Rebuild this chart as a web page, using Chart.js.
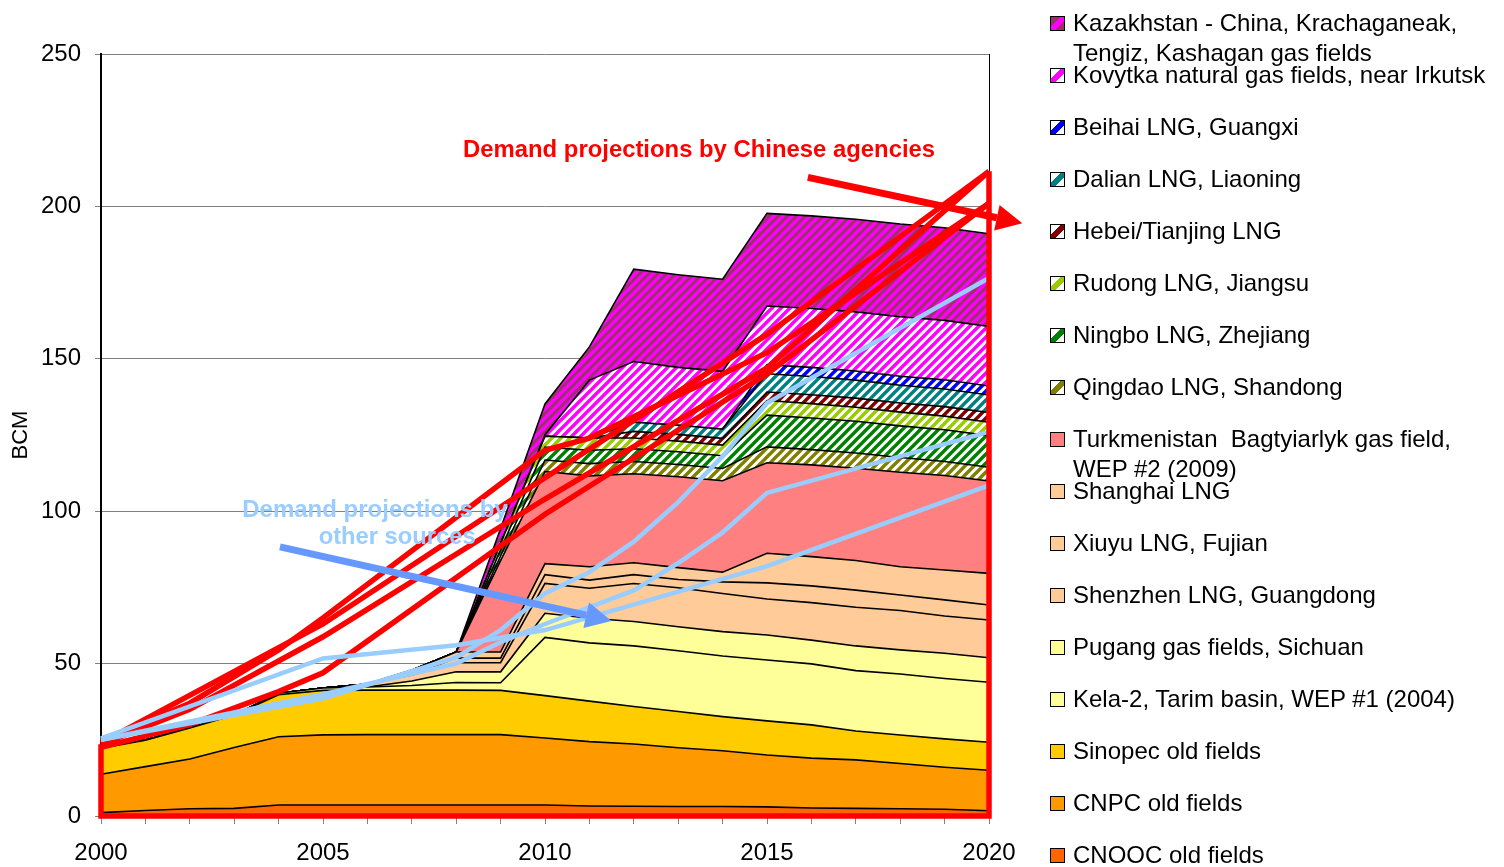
<!DOCTYPE html>
<html>
<head>
<meta charset="utf-8">
<script src="https://cdn.jsdelivr.net/npm/chart.js@4.4.1/dist/chart.umd.min.js"></script>
<style>
  body { margin: 0; background: #fff; }
  #wrap { position: relative; width: 1504px; height: 867px; overflow: hidden; }
  #c { position: absolute; left: 0; top: 0; }
  #legend { position: absolute; left: 0; top: 0; font-family: "Liberation Sans", Arial, sans-serif; font-size: 24px; color: #000; }
  .item { position: absolute; left: 1050px; white-space: pre; line-height: 30px; }
  .box { position: absolute; left: 0; top: 8px; width: 13px; height: 13px; border: 1px solid #000; }
  .txt { position: absolute; left: 23px; top: 0; }
</style>
</head>
<body>
<div id="wrap">
  <canvas id="c" width="1504" height="867"></canvas>
  <div id="legend"></div>
</div>
<script>
// années
const years = [2000, 2001, 2002, 2003, 2004, 2005, 2006, 2007, 2008, 2009, 2010,
               2011, 2012, 2013, 2014, 2015, 2016, 2017, 2018, 2019, 2020];
const yTicks = [0, 50, 100, 150, 200, 250];

// supply layers (BCM, stacked from the bottom)
const cnooc    = [1.1, 1.8, 2.4, 2.5, 3.6, 3.6, 3.6, 3.6, 3.6, 3.6, 3.6, 3.3, 3.2, 3.1, 3.1, 3.0, 2.6, 2.5, 2.4, 2.2, 1.7];
const cnpc     = [12.6, 14.4, 16.3, 20.0, 22.4, 23.0, 23.1, 23.1, 23.1, 23.1, 22.0, 21.1, 20.4, 19.3, 18.3, 17.0, 16.4, 15.9, 14.8, 13.8, 13.3];
const sinopec  = [8.5, 8.7, 10.2, 10.6, 13.8, 14.6, 14.6, 14.6, 14.6, 14.5, 13.9, 13.3, 12.3, 11.9, 11.2, 11.2, 10.9, 9.5, 9.4, 9.3, 9.2];
const kela2    = [0, 0, 0, 0, 0.5, 0.8, 1.0, 1.5, 2.5, 2.5, 19.1, 19.1, 19.9, 19.9, 19.9, 20.0, 20.0, 19.8, 20.0, 19.8, 19.7];
const pugang   = [0, 0, 0, 0, 0, 0, 0, 1.5, 3.5, 3.6, 7.9, 8.1, 8.0, 7.9, 8.0, 8.2, 7.8, 8.1, 7.9, 8.3, 8.0];
const shenzhen = [0, 0, 0, 0, 0, 0, 1.0, 2.0, 3.0, 3.0, 9.8, 9.8, 12.5, 12.8, 12.5, 11.8, 12.3, 12.7, 12.9, 12.2, 12.4];
const xiuyu    = [0, 0, 0, 0, 0, 0, 0, 0, 1.5, 1.5, 2.9, 2.7, 2.9, 2.7, 3.8, 5.3, 5.5, 5.6, 5.1, 5.3, 4.9];
const shanghai = [0, 0, 0, 0, 0, 0, 0, 1.5, 2.0, 2.0, 3.6, 4.4, 3.9, 3.9, 3.2, 9.7, 9.6, 9.7, 9.3, 9.8, 10.4];
const turkmen  = [0, 0, 0, 0, 0, 0, 0, 0, 0, 30.0, 30.2, 29.8, 29.2, 29.8, 30.0, 29.7, 30.1, 30.3, 31.0, 31.0, 30.3];
const qingdao  = [0, 0, 0, 0, 0, 0, 0, 0, 0, 1.5, 3.8, 4.0, 4.0, 4.0, 4.0, 5.2, 5.0, 5.0, 4.8, 4.6, 4.5];
const ningbo   = [0, 0, 0, 0, 0, 0, 0, 0, 0, 2.0, 4.2, 4.4, 4.2, 4.2, 4.2, 10.4, 10.4, 10.4, 10.4, 10.4, 10.4];
const rudong   = [0, 0, 0, 0, 0, 0, 0, 0, 0, 2.0, 3.6, 4.0, 3.5, 3.5, 3.5, 4.8, 4.7, 4.6, 4.5, 4.5, 4.4];
const hebei    = [0, 0, 0, 0, 0, 0, 0, 0, 0, 0, 0, 0, 2.2, 2.2, 2.2, 2.8, 2.9, 3.0, 3.0, 3.1, 3.2];
const dalian   = [0, 0, 0, 0, 0, 0, 0, 0, 0, 0, 0, 0, 3.0, 3.0, 3.0, 6.0, 6.0, 5.9, 5.8, 5.8, 5.7];
const beihai   = [0, 0, 0, 0, 0, 0, 0, 0, 0, 0, 0, 0, 0, 0, 0, 3.0, 3.0, 3.0, 3.0, 3.0, 3.0];
const kovytka  = [0, 0, 0, 0, 0, 0, 0, 0, 0, 0, 0.5, 19.0, 19.9, 19.0, 19.0, 19.2, 19.3, 19.4, 19.5, 19.5, 19.5];
const kazakh   = [0, 0, 0, 0, 0, 0, 0, 0, 0, 5.0, 10.1, 10.9, 30.3, 30.4, 30.2, 30.4, 30.4, 30.4, 30.4, 30.4, 30.4];

// demand projections by Chinese agencies (null = not given)
const red1 = [24.5, null, 37, null, 54.5, 65, null, null, null, null, 120, 124, null, null, null, 152, null, null, null, null, 201];
const red2 = [24, null, null, null, null, 63, null, null, null, null, 111, null, null, null, null, 158, null, null, null, null, 211.5];
const red3 = [23.5, null, 35, null, null, 58.8, null, null, null, null, 104, null, null, null, null, 147, null, null, null, null, 211.5];
const red4 = [22.5, null, 30, null, 40.8, 47, null, null, null, null, 99, null, null, null, null, 145, null, null, null, null, 201];
// demand projections by other sources
const blue1 = [25.5, null, null, null, null, 51.7, null, null, 56, null, 61, null, null, null, null, 82, null, null, null, null, 108.5];
const blue2 = [25, null, null, null, null, 40, null, null, 50, 57, 63, null, 74, 83, 93, 106, null, null, null, null, 126];
const blue3 = [25, null, null, null, null, 38.5, null, null, 52, 61, 73, 80, 90, 103, 118, 135.5, null, null, null, null, 176.5];

// annotations, in (year index, BCM)
const redArrow = [15.92, 209.5, 20.75, 194.5];
const blueArrow = [4.03, 88.3, 11.5, 64.0];
const redText = ['Demand projections by Chinese agencies', 13.47, 218.3];
const blueText1 = ['Demand projections by', 6.17, 100.3];
const blueText2 = ['other sources', 6.67, 91.3];

const FONT = '"Liberation Sans", Arial, sans-serif';
const canvas = document.getElementById('c');
const ctx0 = canvas.getContext('2d');

function stripes(fg, bg) {
  const s = 9;
  const tile = document.createElement('canvas');
  tile.width = s; tile.height = s;
  const g = tile.getContext('2d');
  g.fillStyle = bg;
  g.fillRect(0, 0, s, s);
  g.strokeStyle = fg;
  g.lineWidth = 3.4;
  g.beginPath();
  g.moveTo(0, s); g.lineTo(s, 0);
  g.moveTo(-s / 2, s / 2); g.lineTo(s / 2, -s / 2);
  g.moveTo(s / 2, s * 1.5); g.lineTo(s * 1.5, s / 2);
  g.stroke();
  return ctx0.createPattern(tile, 'repeat');
}

const layers = [
  ['CNOOC old fields', cnooc, '#FF6600'],
  ['CNPC old fields', cnpc, '#FF9900'],
  ['Sinopec old fields', sinopec, '#FFCC00'],
  ['Kela-2, Tarim basin, WEP #1 (2004)', kela2, '#FFFF99'],
  ['Pugang gas fields, Sichuan', pugang, '#FFFF99'],
  ['Shenzhen LNG, Guangdong', shenzhen, '#FFCC99'],
  ['Xiuyu LNG, Fujian', xiuyu, '#FFCC99'],
  ['Shanghai LNG', shanghai, '#FFCC99'],
  ['Turkmenistan  Bagtyiarlyk gas field,\nWEP #2 (2009)', turkmen, '#FF8080'],
  ['Qingdao LNG, Shandong', qingdao, '#808000', '#FFFFFF'],
  ['Ningbo LNG, Zhejiang', ningbo, '#008000', '#FFFFFF'],
  ['Rudong LNG, Jiangsu', rudong, '#99CC00', '#FFFFFF'],
  ['Hebei/Tianjing LNG', hebei, '#800000', '#FFFFFF'],
  ['Dalian LNG, Liaoning', dalian, '#008080', '#FFFFFF'],
  ['Beihai LNG, Guangxi', beihai, '#0000FF', '#FFFFFF'],
  ['Kovytka natural gas fields, near Irkutsk', kovytka, '#FF00FF', '#FFFFFF'],
  ['Kazakhstan - China, Krachaganeak,\nTengiz, Kashagan gas fields', kazakh, '#FF00FF', '#993366']
];

const datasets = layers.map((l, i) => ({
  label: l[0],
  data: l[1],
  backgroundColor: l[3] ? stripes(l[2], l[3]) : l[2],
  borderColor: '#000',
  borderWidth: 1.6,
  fill: i === 0 ? 'origin' : '-1',
  pointRadius: 0,
  tension: 0,
  order: 2
}));

function demand(data, color, width, name, outline) {
  return {
    label: name, data: data, borderColor: color, borderWidth: width,
    fill: false, pointRadius: 0, tension: 0, spanGaps: true,
    stack: name, order: 1, outline: outline
  };
}
datasets.push(
  demand(blue1, '#99CCFF', 4.5, 'b1'),
  demand(blue2, '#99CCFF', 4.5, 'b2'),
  demand(blue3, '#99CCFF', 4.5, 'b3'),
  demand(red4, '#FF0000', 5.5, 'r4'),
  demand(red1, '#FF0000', 5.5, 'r1'),
  demand(red2, '#FF0000', 5.5, 'r2'),
  demand(red3, '#FF0000', 5.5, 'r3', true)
);

function arrow(ctx, x1, y1, x2, y2, color, w, head) {
  const a = Math.atan2(y2 - y1, x2 - x1);
  const bx = x2 - head * Math.cos(a), by = y2 - head * Math.sin(a);
  const hw = head * 0.5;
  ctx.strokeStyle = color;
  ctx.lineWidth = w;
  ctx.beginPath(); ctx.moveTo(x1, y1); ctx.lineTo(bx, by); ctx.stroke();
  ctx.fillStyle = color;
  ctx.beginPath();
  ctx.moveTo(x2, y2);
  ctx.lineTo(bx + hw * Math.sin(a), by - hw * Math.cos(a));
  ctx.lineTo(bx - hw * Math.sin(a), by + hw * Math.cos(a));
  ctx.closePath(); ctx.fill();
}

const extras = {
  id: 'extras',
  beforeDatasetsDraw(chart) {
    const { ctx, chartArea: a } = chart;
    ctx.save();
    ctx.strokeStyle = '#000';
    ctx.lineWidth = 1;
    ctx.beginPath();
    ctx.moveTo(a.right + 0.5, a.top); ctx.lineTo(a.right + 0.5, a.bottom);
    ctx.stroke();
    ctx.restore();
  },
  afterDatasetsDraw(chart) {
    const { ctx } = chart;
    const y0 = chart.scales.y.getPixelForValue(0);
    chart.data.datasets.forEach((ds, i) => {
      if (!ds.outline) return;
      const meta = chart.getDatasetMeta(i);
      const pts = meta.data.filter((p, j) => ds.data[j] != null);
      const first = pts[0], last = pts[pts.length - 1];
      ctx.save();
      ctx.strokeStyle = ds.borderColor;
      ctx.lineWidth = ds.borderWidth;
      ctx.lineJoin = 'miter';
      ctx.beginPath();
      ctx.moveTo(last.x, last.y);
      ctx.lineTo(last.x, y0);
      ctx.lineTo(first.x, y0);
      ctx.lineTo(first.x, first.y);
      ctx.stroke();
      ctx.restore();
    });
  },
  afterDraw(chart) {
    const { ctx, scales: { x, y } } = chart;
    const px = v => x.getPixelForValue(v);
    const py = v => y.getPixelForValue(v);
    ctx.save();
    arrow(ctx, px(redArrow[0]), py(redArrow[1]), px(redArrow[2]), py(redArrow[3]), '#FF0000', 7, 26);
    arrow(ctx, px(blueArrow[0]), py(blueArrow[1]), px(blueArrow[2]), py(blueArrow[3]), '#6699FF', 7, 26);
    ctx.font = 'bold 24px ' + FONT;
    ctx.textAlign = 'center';
    ctx.textBaseline = 'middle';
    ctx.fillStyle = '#FF0000';
    ctx.fillText(redText[0], px(redText[1]), py(redText[2]), 472);
    ctx.fillStyle = '#99CCFF';
    ctx.fillText(blueText1[0], px(blueText1[1]), py(blueText1[2]), 266);
    ctx.fillText(blueText2[0], px(blueText2[1]), py(blueText2[2]), 157);
    ctx.restore();
  }
};

Chart.defaults.font.family = FONT;
Chart.defaults.color = '#000';

new Chart(canvas, {
  type: 'line',
  data: { labels: years, datasets: datasets },
  options: {
    responsive: false,
    animation: false,
    events: [],
    layout: { padding: { top: 54, right: 515, left: 0, bottom: 0 } },
    plugins: { legend: { display: false }, tooltip: { enabled: false } },
    scales: {
      x: {
        type: 'category',
        offset: false,
        grid: { drawOnChartArea: false, drawTicks: true, tickLength: 8, color: '#808080' },
        border: { display: true, color: '#000', width: 1.5 },
        ticks: {
          autoSkip: false, maxRotation: 0, padding: 15, color: '#000', font: { size: 24 },
          callback: function (v, i) { return years[i] % 5 === 0 ? String(years[i]) : ''; }
        },
        afterFit: s => { s.height = 51; }
      },
      y: {
        stacked: true,
        min: yTicks[0],
        max: yTicks[yTicks.length - 1],
        afterBuildTicks: s => { s.ticks = yTicks.map(v => ({ value: v })); },
        ticks: { padding: 14, color: '#000', font: { size: 24 } },
        grid: { color: '#808080', tickLength: 6 },
        border: { color: '#000', width: 2 },
        title: { display: true, text: 'BCM', font: { size: 22 }, color: '#000', padding: { top: 8, bottom: 0 } },
        afterFit: s => { s.width = 101; }
      }
    }
  },
  plugins: [extras]
});

// légende à droite, dans l'ordre inverse de l'empilement
const legend = document.getElementById('legend');
layers.slice().reverse().forEach((l, i) => {
  const item = document.createElement('div');
  item.className = 'item';
  item.style.top = (23 + 52 * i - 15) + 'px';
  const box = document.createElement('div');
  box.className = 'box';
  if (l[3]) {
    box.style.background = 'linear-gradient(135deg, ' + l[3] + ' 0%, ' + l[3] + ' 35%, ' + l[2] + ' 35%, ' + l[2] + ' 68%, ' + l[3] + ' 68%)';
  } else {
    box.style.background = l[2];
  }
  const txt = document.createElement('div');
  txt.className = 'txt';
  txt.textContent = l[0];
  item.appendChild(box);
  item.appendChild(txt);
  legend.appendChild(item);
});
</script>
</body>
</html>
